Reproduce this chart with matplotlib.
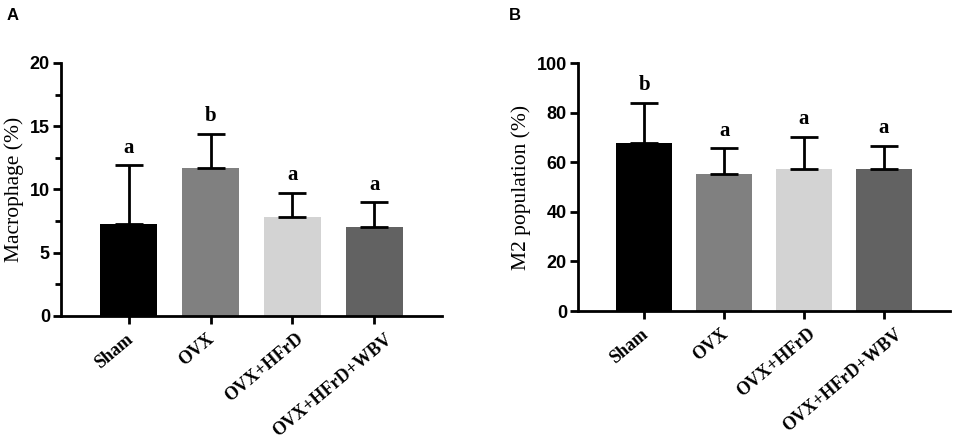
import matplotlib
matplotlib.use("Agg")
import matplotlib.pyplot as plt
import numpy as np
from matplotlib.ticker import MultipleLocator

# Data
groups = ["Sham", "OVX", "OVX+HFrD", "OVX+HFrD+WBV"]
colors = ["#000000", "#808080", "#d3d3d3", "#626262"]

macrophage_mean = [7.3, 11.7, 7.85, 7.0]
macrophage_err = [4.6, 2.7, 1.9, 2.0]
macrophage_letters = ["a", "b", "a", "a"]

m2_mean = [67.8, 55.2, 57.3, 57.3]
m2_err = [16.1, 10.4, 12.9, 9.4]
m2_letters = ["b", "a", "a", "a"]

serif = "Liberation Serif"
sans = "Liberation Sans"

fig = plt.figure(figsize=(9.57, 4.38), dpi=100)
axA = fig.add_axes([61 / 957, 1 - 316 / 438, 381 / 957, 253 / 438])
axB = fig.add_axes([578 / 957, 1 - 311 / 438, 372 / 957, 248 / 438])

group_labels = []
label_drop = -15


def draw_panel(ax, means, errs, letters, ylim, major, minor, ylabel):
    x = np.arange(len(groups))
    ax.bar(x, means, width=0.7, color=colors, zorder=2)
    ax.errorbar(x, means, yerr=[np.zeros(len(means)), errs], fmt="none",
                ecolor="black", elinewidth=2, capsize=10, capthick=2, zorder=3)
    for xi, m, e, lab in zip(x, means, errs, letters):
        ax.annotate(lab, (xi, m + e), xytext=(0, 9), textcoords="offset points",
                    ha="center", va="baseline", fontsize=15, fontweight="bold",
                    family=serif)
    ax.set_xlim(-0.83, len(groups) - 1 + 0.83)
    ax.set_ylim(*ylim)
    ax.yaxis.set_major_locator(MultipleLocator(major))
    if minor:
        ax.yaxis.set_minor_locator(MultipleLocator(minor))
    ax.set_xticks(x)
    ax.set_xticklabels([])
    # rotated group names, drawn as annotations so they can be nudged later
    for xi, g in zip(x, groups):
        t = ax.annotate(g, (xi, 0), xytext=(0, label_drop),
                        textcoords="offset points", rotation=40,
                        rotation_mode="anchor", ha="right", va="center",
                        fontsize=13, fontweight="bold", family=serif,
                        annotation_clip=False)
        group_labels.append(t)
    for lab in ax.get_yticklabels():
        lab.set_fontfamily(sans)
        lab.set_fontweight("bold")
        lab.set_fontsize(13)
    ax.tick_params(axis="y", which="major", length=6, width=2, pad=2)
    ax.tick_params(axis="y", which="minor", length=4, width=2)
    ax.tick_params(axis="x", length=6, width=2)
    for side in ["top", "right"]:
        ax.spines[side].set_visible(False)
    for side in ["left", "bottom"]:
        ax.spines[side].set_linewidth(2)
    ax.set_ylabel(ylabel, family=serif, fontsize=15.5, labelpad=4)


draw_panel(axA, macrophage_mean, macrophage_err, macrophage_letters,
           (0, 20), 5, 2.5, "Macrophage (%)")
draw_panel(axB, m2_mean, m2_err, m2_letters,
           (0, 100), 20, None, "M2 population (%)")

# longer names sit a little further right of their tick, as in the original
fig.canvas.draw()
renderer = fig.canvas.get_renderer()
for t in group_labels:
    w = t.get_window_extent(renderer).width * 72 / fig.dpi
    t.xyann = (0.17 * w - 4, label_drop)

fig.text(13 / 957, 1 - 15 / 438, "A", family=sans, fontweight="bold",
         fontsize=12, ha="center", va="center")
fig.text(515 / 957, 1 - 15 / 438, "B", family=sans, fontweight="bold",
         fontsize=12, ha="center", va="center")

fig.savefig("out.png", dpi=100)
